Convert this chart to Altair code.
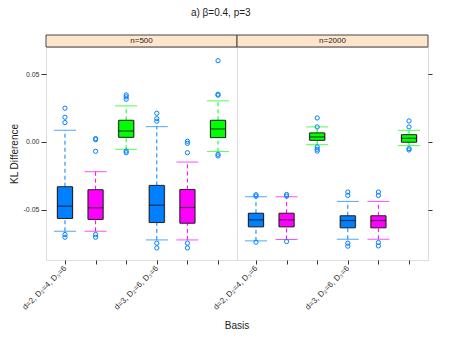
import altair as alt
import pandas as pd

FONT = "Liberation Sans"

panels = ["n=500", "n=2000"]
positions = [1, 2, 3, 4, 5, 6]
methods = ["A", "B", "C", "A", "B", "C"]
method_colors = ["#0080ff", "#ff00ff", "#00ff00"]
basis_labels = {1: "d=2, D₂=4, D₃=6", 4: "d=3, D₂=6, D₃=6"}

# n=500
lo_500 = [-0.0658, -0.0658, -0.0054, -0.0722, -0.0722, -0.0071]
q1_500 = [-0.0564, -0.0571, 0.0034, -0.0594, -0.0599, 0.0032]
med_500 = [-0.0473, -0.0485, 0.0081, -0.0466, -0.0483, 0.0096]
q3_500 = [-0.0330, -0.0352, 0.0160, -0.0320, -0.0350, 0.0160]
hi_500 = [0.0086, -0.0219, 0.0266, 0.0113, -0.0148, 0.0303]
out_500 = [
    [0.0249, 0.0182, 0.0143, -0.0682, -0.0702],
    [0.0025, 0.0017, -0.0069, -0.0682, -0.0702],
    [0.0347, 0.0333, 0.0315, -0.0067, -0.0079],
    [0.0212, 0.0172, 0.0153, -0.0746, -0.0781],
    [0.0005, -0.0010, -0.0079, -0.0746, -0.0781],
    [0.0599, 0.0352, 0.0345, -0.0091, -0.0103],
]

# n=2000
lo_2000 = [-0.0729, -0.0719, -0.0020, -0.0717, -0.0717, -0.0027]
q1_2000 = [-0.0626, -0.0626, 0.0012, -0.0633, -0.0633, -0.0002]
med_2000 = [-0.0574, -0.0574, 0.0037, -0.0579, -0.0579, 0.0027]
q3_2000 = [-0.0525, -0.0525, 0.0067, -0.0544, -0.0544, 0.0054]
hi_2000 = [-0.0404, -0.0404, 0.0111, -0.0438, -0.0438, 0.0086]
out_2000 = [
    [-0.0389, -0.0399, -0.0739],
    [-0.0387, -0.0399, -0.0734],
    [0.0177, 0.0111, -0.0037, -0.0054, -0.0067],
    [-0.0369, -0.0394, -0.0746, -0.0768],
    [-0.0369, -0.0394, -0.0741, -0.0766],
    [0.0155, 0.0111, -0.0049, -0.0059],
]

stats = {
    "n=500": (lo_500, q1_500, med_500, q3_500, hi_500, out_500),
    "n=2000": (lo_2000, q1_2000, med_2000, q3_2000, hi_2000, out_2000),
}

W1, W2, H = 191, 191, 213
YDOM = [-0.087, 0.070]
BOX = 15
CAP = 22

label_expr = " : ".join(
    [f"datum.value == {k} ? '{v}'" for k, v in basis_labels.items()]
) + " : ''"

color_scale = alt.Scale(domain=["A", "B", "C"], range=method_colors)


def panel(name, width, left):
    lo, q1, med, q3, hi, outs = stats[name]
    df = pd.DataFrame({"pos": positions, "method": methods, "lo": lo, "q1": q1,
                       "med": med, "q3": q3, "hi": hi})
    orows = []
    for p, m, vals in zip(positions, methods, outs):
        for v in vals:
            orows.append({"pos": p, "method": m, "v": v})
    odf = pd.DataFrame(orows)

    xaxis = alt.Axis(values=positions, labelExpr=label_expr, labelAngle=315,
                     labelAlign="right", labelBaseline="middle", labelFontSize=8,
                     labelFont=FONT, labelColor="#333", tickColor="#333",
                     domain=False, tickSize=4, labelPadding=3, title=None, grid=False)
    x = alt.X("pos:O", scale=alt.Scale(type="point", domain=positions, padding=0.62),
              axis=xaxis)
    if left:
        yaxis = alt.Axis(values=[-0.05, 0.0, 0.05], orient="left", title="KL Difference",
                         titleFont=FONT, titleFontSize=10, titleFontWeight="normal",
                         titleColor="#222", titlePadding=4,
                         labelExpr="datum.value < 0 ? '-' + format(abs(datum.value), '.2f') : format(datum.value, '.2f')",
                         labelFont=FONT, labelFontSize=7, labelColor="#333",
                         tickColor="#333", domain=False, tickSize=5, labelPadding=2,
                         grid=False)
    else:
        yaxis = alt.Axis(values=[-0.05, 0.0, 0.05], orient="right", title=None,
                         labels=False, tickColor="#333", domain=False, tickSize=4,
                         grid=False)
    y_scale = alt.Scale(domain=YDOM, nice=False, zero=False)

    base = alt.Chart(df)
    whisk_lo = base.mark_rule(strokeDash=[4, 3], strokeWidth=1).encode(
        x=x, y=alt.Y("lo:Q", scale=y_scale, axis=yaxis), y2="q1:Q",
        color=alt.Color("method:N", scale=color_scale, legend=None))
    whisk_hi = base.mark_rule(strokeDash=[4, 3], strokeWidth=1).encode(
        x=x, y=alt.Y("q3:Q", scale=y_scale), y2="hi:Q",
        color=alt.Color("method:N", scale=color_scale, legend=None))
    cap_lo = base.mark_tick(size=CAP, thickness=1, strokeDash=[4, 3], orient="horizontal").encode(
        x=x, y=alt.Y("lo:Q", scale=y_scale),
        color=alt.Color("method:N", scale=color_scale, legend=None))
    cap_hi = base.mark_tick(size=CAP, thickness=1, strokeDash=[4, 3], orient="horizontal").encode(
        x=x, y=alt.Y("hi:Q", scale=y_scale),
        color=alt.Color("method:N", scale=color_scale, legend=None))
    halo = base.mark_bar(size=BOX + 2, color="#bbbbbb").encode(
        x=x, y=alt.Y("q1:Q", scale=y_scale), y2="q3:Q")
    box = base.mark_bar(size=BOX, stroke="#222", strokeWidth=1).encode(
        x=x, y=alt.Y("q1:Q", scale=y_scale), y2="q3:Q",
        fill=alt.Fill("method:N", scale=color_scale, legend=None))
    median = base.mark_tick(size=BOX, thickness=1.2, color="#111", orient="horizontal").encode(
        x=x, y=alt.Y("med:Q", scale=y_scale))
    outl = alt.Chart(odf).mark_point(shape="circle", filled=False, size=18,
                                     strokeWidth=1, color="#0080ff", opacity=1).encode(
        x=x, y=alt.Y("v:Q", scale=y_scale))

    sdf = pd.DataFrame({"label": [name]})
    strip = alt.Chart(sdf).mark_rect(fill="#ffe5cc", stroke="#444", strokeWidth=1).encode(
        x=alt.value(0), x2=alt.value(width), y=alt.value(-12), y2=alt.value(0))
    strip_text = alt.Chart(sdf).mark_text(font=FONT, fontSize=8, color="#222",
                                          baseline="middle").encode(
        x=alt.value(width / 2), y=alt.value(-6), text="label:N")

    layers = [strip, strip_text, whisk_lo, whisk_hi, cap_lo, cap_hi, halo, box, median, outl]
    if left:
        bdf = pd.DataFrame({"t": ["Basis"]})
        basis = alt.Chart(bdf).mark_text(font=FONT, fontSize=10, color="#222").encode(
            x=alt.value(width), y=alt.value(H + 66), text="t:N")
        layers.append(basis)
    return alt.layer(*layers).properties(width=width, height=H)


chart = alt.hconcat(panel("n=500", W1, True), panel("n=2000", W2, False),
                    spacing=0, bounds="flush").properties(
    title=alt.Title("a) β=0.4, p=3", font=FONT, fontSize=10, fontWeight="normal",
                    color="#222", anchor="middle", offset=14, dy=-2)
).configure_view(stroke="#333", strokeWidth=1).configure(padding={"left": 0, "top": 0, "right": 5, "bottom": 0})

chart.save("out.html", embed_options={"renderer": "svg", "actions": False})
